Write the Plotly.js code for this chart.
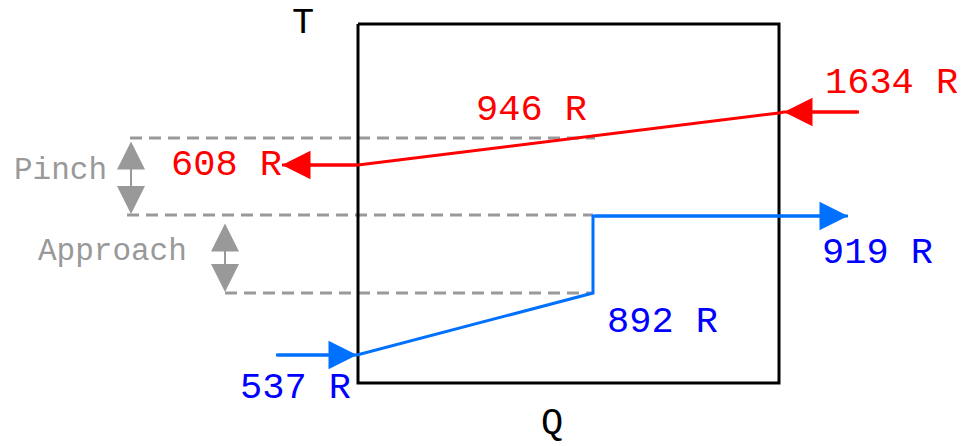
<!DOCTYPE html>
<html>
<head>
<meta charset="utf-8">
<script src="https://cdn.plot.ly/plotly-3.0.1.min.js"></script>
<style>
  body { margin: 0; background: #fff; }
  #myPlot { width: 963px; height: 446px; }
</style>
</head>
<body>
<div id="myPlot"></div>
<script>
// diagram units: Q to the right, T downwards (same grid as the picture)
const boxQ = [358, 779, 779, 358, 358];
const boxT = [24, 24, 383, 383, 24];

// hot stream: 1634 R in, 946 R, 608 R out
const hotQ = [859, 784, 779, 358, 282];
const hotT = [112, 112, 113, 165, 165];

// cold stream: 537 R in, 892 R, 919 R out
const coldQ = [276, 357, 593, 593, 848];
const coldT = [355, 355, 293, 216, 216];

// dashed guide lines (pinch / approach levels)
const guideStart = [130, 127, 225];
const guideEnd = [595, 593, 593];
const guideT = [138, 215, 293];

// double arrows: pinch and approach
const gapQ = [131, 225];
const gapTop = [140, 222];
const gapBottom = [214, 292];

const labels = ['1634 R', '946 R', '608 R', '919 R', '892 R', '537 R'];
const labelQ = [891, 531, 226, 877, 662, 295];
const labelT = [83, 110, 165, 253, 322, 388];
const labelColor = ['#ff0000', '#ff0000', '#ff0000', '#0000ff', '#0000ff', '#0000ff'];

const gapLabels = ['Pinch', 'Approach'];
const gapLabelQ = [60, 112];
const gapLabelT = [170, 251];

const axisLabels = ['T', 'Q'];
const axisLabelQ = [303, 552];
const axisLabelT = [23, 423];

const RED = '#ff0000';
const BLUE = '#0070ff';
const GRAY = '#999999';
const FONT = 'Liberation Mono, Courier New, monospace';

const traces = [];

guideT.forEach((t, i) => {
    traces.push({
        x: [guideStart[i], guideEnd[i]],
        y: [t, t],
        type: 'scatter',
        mode: 'lines',
        line: { color: GRAY, width: 3, dash: '12px,7px' },
        hoverinfo: 'skip'
    });
});

traces.push({
    x: boxQ, y: boxT, type: 'scatter', mode: 'lines',
    line: { color: '#000', width: 3 }, hoverinfo: 'skip'
});

traces.push({
    x: hotQ, y: hotT, type: 'scatter', mode: 'lines',
    line: { color: RED, width: 3 }, hoverinfo: 'skip'
});

traces.push({
    x: coldQ, y: coldT, type: 'scatter', mode: 'lines',
    line: { color: BLUE, width: 3 }, hoverinfo: 'skip'
});

// arrow heads drawn with annotation arrows along the stream segments
function arrow(x0, y0, x1, y1, color) {
    return {
        x: x1, y: y1, ax: x0, ay: y0,
        xref: 'x', yref: 'y', axref: 'x', ayref: 'y',
        text: '', showarrow: true,
        arrowhead: 2, arrowsize: 1.9, arrowwidth: 3,
        arrowcolor: color, standoff: 0
    };
}

const annotations = [
    arrow(hotQ[0], hotT[0], hotQ[1], hotT[1], RED),
    arrow(hotQ[3], hotT[3], hotQ[4], hotT[4], RED),
    arrow(coldQ[0], coldT[0], coldQ[1], coldT[1], BLUE),
    arrow(coldQ[3], coldT[3], coldQ[4], coldT[4], BLUE)
];

gapQ.forEach((q, i) => {
    annotations.push({
        x: q, y: gapBottom[i], ax: q, ay: gapTop[i],
        xref: 'x', yref: 'y', axref: 'x', ayref: 'y',
        text: '', showarrow: true,
        arrowside: 'end+start',
        arrowhead: 2, startarrowhead: 2,
        arrowsize: 2.8, startarrowsize: 2.8, arrowwidth: 2,
        arrowcolor: GRAY, standoff: 0, startstandoff: 0
    });
});

labels.forEach((txt, i) => {
    annotations.push({
        x: labelQ[i], y: labelT[i], xref: 'x', yref: 'y',
        text: txt, showarrow: false,
        xanchor: 'center', yanchor: 'middle',
        font: { family: FONT, size: 37, color: labelColor[i] }
    });
});

gapLabels.forEach((txt, i) => {
    annotations.push({
        x: gapLabelQ[i], y: gapLabelT[i], xref: 'x', yref: 'y',
        text: txt, showarrow: false,
        xanchor: 'center', yanchor: 'middle',
        font: { family: FONT, size: 31, color: GRAY }
    });
});

axisLabels.forEach((txt, i) => {
    annotations.push({
        x: axisLabelQ[i], y: axisLabelT[i], xref: 'x', yref: 'y',
        text: txt, showarrow: false,
        xanchor: 'center', yanchor: 'middle',
        font: { family: FONT, size: 37, color: '#000' }
    });
});

const layout = {
    width: 963,
    height: 446,
    margin: { l: 0, r: 0, t: 0, b: 0 },
    paper_bgcolor: '#fff',
    plot_bgcolor: '#fff',
    showlegend: false,
    xaxis: { range: [0, 963], visible: false, fixedrange: true },
    yaxis: { range: [446, 0], visible: false, fixedrange: true },
    annotations: annotations
};

Plotly.newPlot('myPlot', traces, layout, { staticPlot: true, displayModeBar: false });
</script>
</body>
</html>
